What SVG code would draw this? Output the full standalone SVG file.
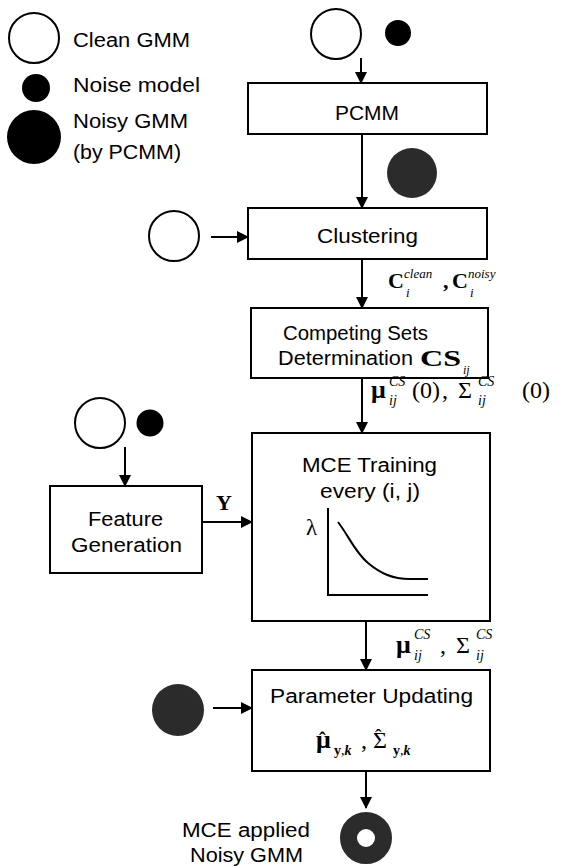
<svg xmlns="http://www.w3.org/2000/svg" width="563" height="866" viewBox="0 0 563 866">
<defs>
<marker id="ah" viewBox="0 0 12 12" refX="11" refY="6" markerWidth="12" markerHeight="12" markerUnits="userSpaceOnUse" orient="auto"><path d="M0,0 L12,6 L0,12 z" fill="#000"/></marker>
</defs>
<style>
.box{fill:#fff;stroke:#000;stroke-width:2}
.t{font-family:"Liberation Sans",Arial,sans-serif;font-size:20px;fill:#000}
.m{font-family:"Liberation Serif","Times New Roman",serif;fill:#000}
.b{font-weight:bold}
.i{font-style:italic}
.clean{fill:#fff;stroke:#000;stroke-width:2}
.noise{fill:#000}
.noisy{fill:#2b2b2b}
.c line{stroke:#000;stroke-width:2;marker-end:url(#ah)}
.ax{stroke:#000;stroke-width:2;fill:none}
</style>
<rect width="563" height="866" fill="#fff"/>

<g id="legend">
<circle class="clean" cx="34" cy="38" r="25"/>
<text class="t" x="73" y="47" textLength="117" lengthAdjust="spacingAndGlyphs">Clean GMM</text>
<circle class="noise" cx="36" cy="88" r="14"/>
<text class="t" x="73" y="92" textLength="127" lengthAdjust="spacingAndGlyphs">Noise model</text>
<circle cx="34" cy="137" r="27" fill="#000"/>
<text class="t" x="73" y="128" textLength="115" lengthAdjust="spacingAndGlyphs">Noisy GMM</text>
<text class="t" x="73" y="159" textLength="108" lengthAdjust="spacingAndGlyphs">(by PCMM)</text>
</g>

<g id="input-top">
<circle class="clean" cx="336" cy="34" r="25"/>
<circle class="noise" cx="398" cy="33" r="13"/>
</g>

<g id="pcmm">
<rect class="box" x="248" y="83" width="239" height="51"/>
<text class="t" x="335" y="120" textLength="64" lengthAdjust="spacingAndGlyphs">PCMM</text>
</g>

<g id="noisy-gmm-pcmm">
<circle class="noisy" cx="412" cy="173" r="25"/>
</g>

<g id="clean-clustering">
<circle class="clean" cx="174" cy="236" r="25"/>
</g>

<g id="clustering">
<rect class="box" x="248" y="208" width="239" height="51"/>
<text class="t" x="317" y="243" textLength="101" lengthAdjust="spacingAndGlyphs">Clustering</text>
</g>

<g id="label-c">
<text class="m b" x="388" y="288" font-size="22">C</text>
<text class="m i" x="404" y="278" font-size="13">clean</text>
<text class="m i" x="406" y="297" font-size="13">i</text>
<text class="m b" x="443" y="288" font-size="22">,</text>
<text class="m b" x="452" y="288" font-size="22">C</text>
<text class="m i" x="468" y="278" font-size="13">noisy</text>
<text class="m i" x="470" y="297" font-size="13">i</text>
</g>

<g id="competing">
<rect class="box" x="251" y="308" width="237" height="70"/>
<text class="t" x="283" y="340" textLength="145" lengthAdjust="spacingAndGlyphs">Competing Sets</text>
<text class="t" x="278" y="365" textLength="135" lengthAdjust="spacingAndGlyphs">Determination</text>
<text class="m b" x="420" y="366" font-size="23" textLength="41" lengthAdjust="spacingAndGlyphs">CS</text>
<text class="m i" x="463" y="374" font-size="12">ij</text>
</g>

<g id="label-init">
<text class="m b" x="371" y="398" font-size="26">μ</text>
<text class="m i" x="389" y="386" font-size="14">CS</text>
<text class="m i" x="389" y="405" font-size="14">ij</text>
<text class="m" x="412" y="398" font-size="24">(0)</text>
<text class="m" x="442" y="398" font-size="24">,</text>
<text class="m" x="458" y="398" font-size="24">Σ</text>
<text class="m i" x="478" y="386" font-size="14">CS</text>
<text class="m i" x="478" y="405" font-size="14">ij</text>
<text class="m" x="522" y="398" font-size="24">(0)</text>
</g>

<g id="input-feature">
<circle class="clean" cx="100" cy="423" r="25"/>
<circle class="noise" cx="150" cy="423" r="13.5"/>
</g>

<g id="feature">
<rect class="box" x="50" y="486" width="152" height="87"/>
<text class="t" x="88" y="526" textLength="75" lengthAdjust="spacingAndGlyphs">Feature</text>
<text class="t" x="71" y="552" textLength="111" lengthAdjust="spacingAndGlyphs">Generation</text>
</g>

<g id="label-y">
<text class="m b" x="216" y="510" font-size="22">Y</text>
</g>

<g id="mce">
<rect class="box" x="252" y="433" width="238" height="188"/>
<text class="t" x="302" y="472" textLength="135" lengthAdjust="spacingAndGlyphs">MCE Training</text>
<text class="t" x="320" y="498" textLength="100" lengthAdjust="spacingAndGlyphs">every (i, j)</text>
<text class="m" x="306" y="535" font-size="23">λ</text>
<path class="ax" d="M328,508 L328,595 L428,595"/>
<path class="ax" d="M338,522 C350,538 355,552 368,563 C380,573 392,579 410,579 L428,579"/>
</g>

<g id="label-final">
<text class="m b" x="396" y="653" font-size="26">μ</text>
<text class="m i" x="414" y="639" font-size="14">CS</text>
<text class="m i" x="414" y="660" font-size="14">ij</text>
<text class="m" x="440" y="653" font-size="24">,</text>
<text class="m" x="456" y="653" font-size="24">Σ</text>
<text class="m i" x="476" y="639" font-size="14">CS</text>
<text class="m i" x="476" y="660" font-size="14">ij</text>
</g>

<g id="noisy-gmm-param">
<circle class="noisy" cx="178" cy="710" r="26"/>
</g>

<g id="param">
<rect class="box" x="252" y="670" width="238" height="101"/>
<text class="t" x="270" y="703" textLength="203" lengthAdjust="spacingAndGlyphs">Parameter Updating</text>
<text class="m b" x="316" y="748" font-size="26">μ<tspan x="319" y="747" font-size="20">ˆ</tspan><tspan x="334" y="755" font-size="14">y</tspan><tspan font-size="14" font-weight="normal">,</tspan><tspan font-size="14" font-style="italic">k</tspan></text>
<text class="m" x="361" y="748" font-size="24">,</text>
<text class="m" x="373" y="748" font-size="24">Σ<tspan x="375" y="744" font-size="20">ˆ</tspan><tspan x="393" y="755" font-size="14" font-weight="bold">y</tspan><tspan font-size="14">,</tspan><tspan font-size="14" font-style="italic" font-weight="bold">k</tspan></text>
</g>

<g id="output">
<circle cx="366" cy="838" r="17.5" fill="none" stroke="#2b2b2b" stroke-width="17"/>
<text class="t" x="182" y="837" textLength="128" lengthAdjust="spacingAndGlyphs">MCE applied</text>
<text class="t" x="190" y="862" textLength="113" lengthAdjust="spacingAndGlyphs">Noisy GMM</text>
</g>

<g id="connectors" class="c">
<line x1="361" y1="58" x2="361" y2="83"/>
<line x1="362" y1="134" x2="362" y2="208"/>
<line x1="211" y1="237" x2="248" y2="237"/>
<line x1="362" y1="259" x2="362" y2="308"/>
<line x1="362" y1="378" x2="362" y2="433"/>
<line x1="125" y1="447" x2="125" y2="486"/>
<line x1="202" y1="522" x2="252" y2="522"/>
<line x1="366" y1="621" x2="366" y2="670"/>
<line x1="213" y1="708" x2="252" y2="708"/>
<line x1="366" y1="771" x2="366" y2="808"/>
</g>
</svg>
